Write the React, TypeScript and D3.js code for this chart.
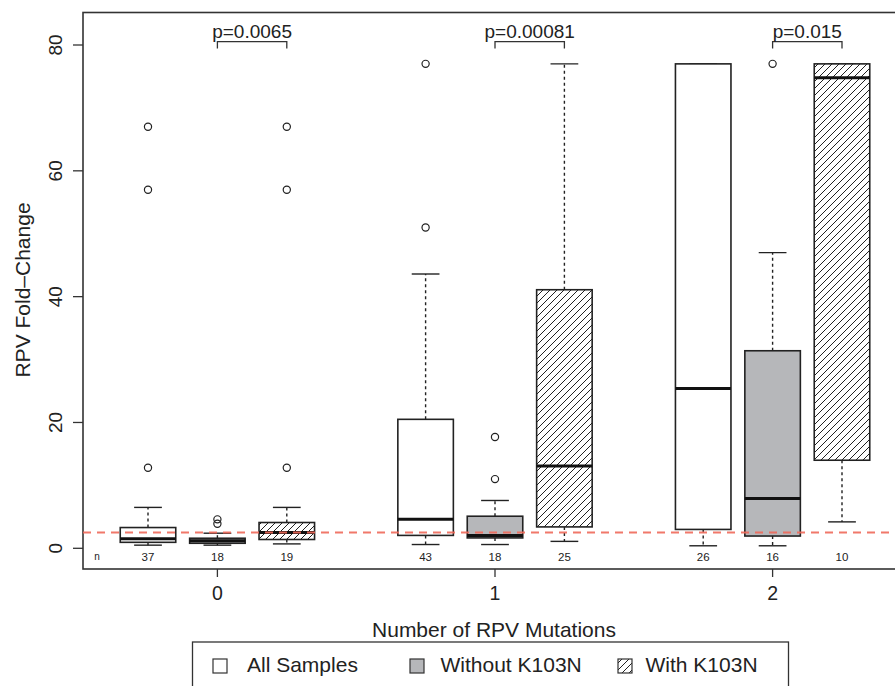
import React from "react";
import * as d3 from "d3";

const groups = ["0", "1", "2"];
const seriesNames = ["All Samples", "Without K103N", "With K103N"];
const counts = [37, 18, 19, 43, 18, 25, 26, 16, 10];
const whiskerLow = [0.5, 0.5, 0.7, 0.6, 0.6, 1.1, 0.4, 0.4, 4.2];
const q1 = [0.95, 0.8, 1.4, 2.05, 1.65, 3.4, 3.0, 1.95, 14.0];
const median = [1.5, 1.2, 2.5, 4.6, 2.05, 13.1, 25.4, 7.9, 74.8];
const q3 = [3.3, 1.6, 4.1, 20.5, 5.1, 41.1, 77, 31.4, 77];
const whiskerHigh = [6.5, 2.4, 6.5, 43.6, 7.6, 77, 77, 47, 77];
const outliers = [[12.8, 57, 67], [3.9, 4.6], [12.8, 57, 67], [51, 77], [11, 17.7], [], [], [77], []];
const pValues = ["p=0.0065", "p=0.00081", "p=0.015"];
const yTicks = [0, 20, 40, 60, 80];
const threshold = 2.5;

const W = 895, H = 686;
const FONT = "'Liberation Sans', Arial, Helvetica, sans-serif";

export default function App() {
  const positions = [1, 2, 3, 5, 6, 7, 9, 10, 11];
  const x = d3.scaleLinear().domain([1, 11]).range([148, 842]);
  const y = d3.scaleLinear().domain([0, 80]).range([548.3, 45]);
  const frameL = 83, frameR = 913, frameT = 12.5, frameB = 569;
  const bw = (x(2) - x(1)) * 0.8;
  const capW = bw / 2;
  const fills = ["#ffffff", "#b6b7ba", "url(#hatch)"];
  const legendSq = [213, 410, 618];
  const legendTx = [247, 440.5, 645.5];

  return (
    <svg width={W} height={H} style={{ position: "absolute", left: 0, top: 0, background: "#fff" }}>
      <defs>
        <pattern id="hatch" patternUnits="userSpaceOnUse" width="7" height="7">
          <rect width="7" height="7" fill="#fff" />
          <path d="M0,7 L7,0 M-1,1 L1,-1 M6,8 L8,6" stroke="#222" strokeWidth="1" />
        </pattern>
        <clipPath id="plotclip">
          <rect x={frameL} y={frameT} width={frameR - frameL} height={frameB - frameT} />
        </clipPath>
      </defs>
      <rect width={W} height={H} fill="#fff" />
      <rect x={frameL} y={frameT} width={frameR - frameL} height={frameB - frameT} fill="none" stroke="#333" strokeWidth={1.6} />
      {yTicks.map((t) => (
        <g key={t}>
          <line x1={frameL - 10} x2={frameL} y1={y(t)} y2={y(t)} stroke="#333" strokeWidth={1.3} />
          <text
            transform={`translate(${62},${y(t)}) rotate(-90)`}
            textAnchor="middle"
            fontFamily={FONT}
            fontSize={19}
            fill="#222"
          >
            {t}
          </text>
        </g>
      ))}
      {groups.map((g, i) => {
        const px = x(positions[i * 3 + 1]);
        return (
          <g key={g}>
            <line x1={px} x2={px} y1={frameB} y2={frameB + 8} stroke="#333" strokeWidth={1.3} />
            <text x={px} y={600} textAnchor="middle" fontFamily={FONT} fontSize={19.5} fill="#222">
              {g}
            </text>
          </g>
        );
      })}
      <text x={494} y={636.5} textAnchor="middle" fontFamily={FONT} fontSize={21} fill="#222">
        Number of RPV Mutations
      </text>
      <text transform={`translate(30,290) rotate(-90)`} textAnchor="middle" fontFamily={FONT} fontSize={21} fill="#222">
        RPV Fold–Change
      </text>
      <g clipPath="url(#plotclip)">
        {positions.map((p, i) => {
          const cx = x(p);
          const s = i % 3;
          return (
            <g key={i}>
              <line x1={cx} x2={cx} y1={y(q3[i])} y2={y(whiskerHigh[i])} stroke="#222" strokeWidth={1.4} strokeDasharray="3,3" />
              <line x1={cx} x2={cx} y1={y(q1[i])} y2={y(whiskerLow[i])} stroke="#222" strokeWidth={1.4} strokeDasharray="3,3" />
              <line x1={cx - capW / 2} x2={cx + capW / 2} y1={y(whiskerHigh[i])} y2={y(whiskerHigh[i])} stroke="#222" strokeWidth={1.4} />
              <line x1={cx - capW / 2} x2={cx + capW / 2} y1={y(whiskerLow[i])} y2={y(whiskerLow[i])} stroke="#222" strokeWidth={1.4} />
              <rect x={cx - bw / 2} y={y(q3[i])} width={bw} height={y(q1[i]) - y(q3[i])} fill={fills[s]} stroke="#222" strokeWidth={1.6} />
              <line x1={cx - bw / 2} x2={cx + bw / 2} y1={y(median[i])} y2={y(median[i])} stroke="#111" strokeWidth={3} />
              {outliers[i].map((o, k) => (
                <circle key={k} cx={cx} cy={y(o)} r={3.6} fill="none" stroke="#222" strokeWidth={1.2} />
              ))}
            </g>
          );
        })}
        <line x1={frameL} x2={frameR} y1={y(threshold)} y2={y(threshold)} stroke="#f06a5a" strokeWidth={2} strokeDasharray="8,6" opacity={0.9} />
      </g>
      <text x={97} y={560} textAnchor="middle" fontFamily={FONT} fontSize={10} fill="#222">n</text>
      {positions.map((p, i) => (
        <text key={i} x={x(p)} y={561} textAnchor="middle" fontFamily={FONT} fontSize={11.5} fill="#222">
          {counts[i]}
        </text>
      ))}
      {groups.map((g, i) => {
        const a = x(positions[i * 3 + 1]);
        const b = x(positions[i * 3 + 2]);
        return (
          <g key={g}>
            <path d={`M${a},48.5 L${a},41.7 L${b},41.7 L${b},48.5`} fill="none" stroke="#333" strokeWidth={1.3} />
            <text x={(a + b) / 2} y={37.5} textAnchor="middle" fontFamily={FONT} fontSize={19} fill="#222">
              {pValues[i]}
            </text>
          </g>
        );
      })}
      <rect x={192.5} y={642} width={596} height={60} fill="#fff" stroke="#333" strokeWidth={1.3} />
      {seriesNames.map((nm, i) => (
        <g key={nm}>
          <rect x={legendSq[i]} y={659} width={14} height={14} fill={i === 2 ? "url(#hatch)" : fills[i]} stroke="#333" strokeWidth={1.2} />
          <text x={legendTx[i]} y={672} fontFamily={FONT} fontSize={21} fill="#222">
            {nm}
          </text>
        </g>
      ))}
    </svg>
  );
}
